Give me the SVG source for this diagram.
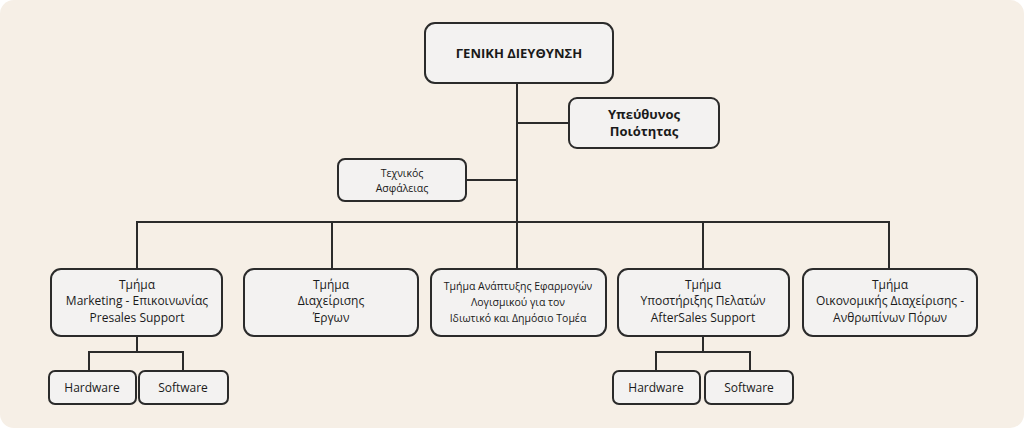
<svg xmlns="http://www.w3.org/2000/svg" width="1024" height="428" viewBox="0 0 1024 428">
<style>
.n rect{fill:#f3f2f1;stroke:#2b2b2b;stroke-width:2}
text{font-family:"Open Sans","DejaVu Sans",sans-serif;font-size:12px;fill:#1a1a1a;text-anchor:middle}
.b{font-weight:bold;font-size:13px}
.s{font-size:10.5px}
#c path{fill:none;stroke:#2b2b2b;stroke-width:2}
</style>
<rect x="0" y="0" width="1024" height="428" rx="14" fill="#f6efe6"/>
<g id="c">
<path d="M517 83V222M517 123H569M466 180H517M137 269V222H889V269M332 222V269M517 222V269M703 222V269"/>
<path d="M137 336V352M89 371V352H183V371M703 336V352M656 371V352H750V371"/>
</g>
<g id="top" class="n"><rect x="425" y="23" width="188" height="60" rx="10"/><text x="519" y="58" class="b">ΓΕΝΙΚΗ ΔΙΕΥΘΥΝΣΗ</text></g>
<g id="quality" class="n"><rect x="569" y="98" width="150" height="50" rx="8"/><text x="644" y="119" class="b">Υπεύθυνος</text><text x="644" y="136" class="b">Ποιότητας</text></g>
<g id="tech" class="n"><rect x="338" y="159" width="128" height="42" rx="7"/><text x="402" y="177" class="s">Τεχνικός</text><text x="402" y="192" class="s">Ασφάλειας</text></g>
<g id="d1" class="n"><rect x="51" y="269" width="171" height="67" rx="10"/><text x="137" y="289">Τμήμα</text><text x="137" y="305">Marketing - Επικοινωνίας</text><text x="137" y="322">Presales Support</text></g>
<g id="d2" class="n"><rect x="244" y="269" width="174" height="67" rx="10"/><text x="331" y="289">Τμήμα</text><text x="331" y="305">Διαχείρισης</text><text x="331" y="322">Έργων</text></g>
<g id="d3" class="n"><rect x="431" y="269" width="175" height="67" rx="10"/><text x="518" y="290" class="s">Τμήμα Ανάπτυξης Εφαρμογών</text><text x="518" y="306" class="s">Λογισμικού για τον</text><text x="518" y="322" class="s">Ιδιωτικό και Δημόσιο Τομέα</text></g>
<g id="d4" class="n"><rect x="618" y="269" width="171" height="67" rx="10"/><text x="703" y="289">Τμήμα</text><text x="703" y="305">Υποστήριξης Πελατών</text><text x="703" y="322">AfterSales Support</text></g>
<g id="d5" class="n"><rect x="803" y="269" width="174" height="67" rx="10"/><text x="890" y="289">Τμήμα</text><text x="890" y="305">Οικονομικής Διαχείρισης -</text><text x="890" y="322">Ανθρωπίνων Πόρων</text></g>
<g id="hw1" class="n"><rect x="49" y="371" width="87" height="33" rx="6"/><text x="92" y="392">Hardware</text></g>
<g id="sw1" class="n"><rect x="139" y="371" width="89" height="33" rx="6"/><text x="183" y="392">Software</text></g>
<g id="hw2" class="n"><rect x="613" y="371" width="87" height="33" rx="6"/><text x="656" y="392">Hardware</text></g>
<g id="sw2" class="n"><rect x="705" y="371" width="88" height="33" rx="6"/><text x="749" y="392">Software</text></g>
</svg>
